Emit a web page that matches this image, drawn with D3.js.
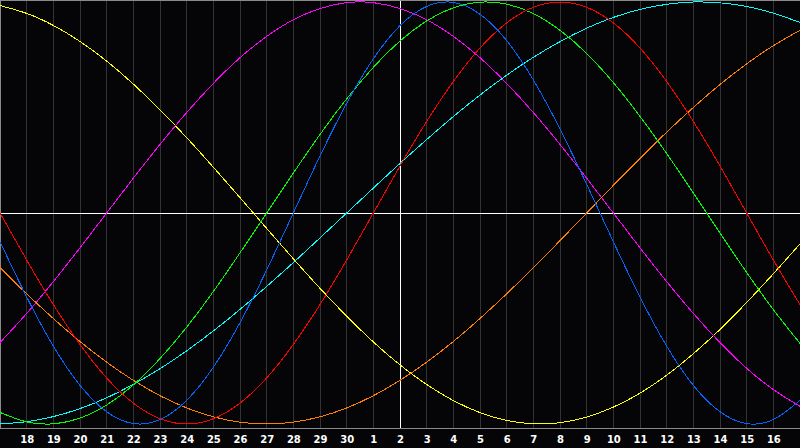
<!DOCTYPE html>
<html><head><meta charset="utf-8">
<script src="https://cdn.jsdelivr.net/npm/d3@7"></script>
<style>body{margin:0;background:#050508}svg{display:block}</style>
</head><body>
<svg id="c" width="800" height="448"></svg>
<script>
// Day labels (window of 31 days, center = day 2)
const days = ["17","18","19","20","21","22","23","24","25","26","27","28","29","30",
  "1","2","3","4","5","6","7","8","9","10","11","12","13","14","15","16","17"];
const centerDay = "2";

// Cycle values (-100..100) for each day of the window
const physical = [-13.6,-39.8,-63.1,-81.7,-94.2,-99.8,-97.9,-88.8,-73.1,-52.0,-27.0,
  0.0,27.0,52.0,73.1,88.8,97.9,99.8,94.2,81.7,63.1,
  39.8,13.6,-13.6,-39.8,-63.1,-81.7,-94.2,-99.8,-97.9,-88.8];
const emotional = [0.0,-22.3,-43.4,-62.3,-78.2,-90.1,-97.5,-100.0,-97.5,-90.1,-78.2,
  -62.3,-43.4,-22.3,0.0,22.3,43.4,62.3,78.2,90.1,97.5,
  100.0,97.5,90.1,78.2,62.3,43.4,22.3,0.0,-22.3,-43.4];
const intellectual = [-94.5,-99.0,-99.9,-97.2,-91.0,-81.5,-69.0,-54.1,-37.2,-18.9,0.0,
  18.9,37.2,54.1,69.0,81.5,91.0,97.2,99.9,99.0,94.5,
  86.6,75.6,61.8,45.8,28.2,9.5,-9.5,-28.2,-45.8,-61.8];
const intuitive = [-61.4,-47.6,-32.5,-16.5,0.0,16.5,32.5,47.6,61.4,73.6,83.7,
  91.6,96.9,99.7,99.7,96.9,91.6,83.7,73.6,61.4,47.6,
  32.5,16.5,0.0,-16.5,-32.5,-47.6,-61.4,-73.6,-83.7,-91.6];
const aesthetic = [98.3,94.6,88.9,81.3,72.0,61.1,48.9,35.7,21.7,7.3,-7.3,
  -21.7,-35.7,-48.9,-61.1,-72.0,-81.3,-88.9,-94.6,-98.3,-99.9,
  -99.4,-96.7,-92.0,-85.4,-76.9,-66.7,-55.2,-42.4,-28.8,-14.6];
const spiritual = [-25.9,-38.3,-50.0,-60.9,-70.7,-79.3,-86.6,-92.4,-96.6,-99.1,-100.0,
  -99.1,-96.6,-92.4,-86.6,-79.3,-70.7,-60.9,-50.0,-38.3,-25.9,
  -13.1,0.0,13.1,25.9,38.3,50.0,60.9,70.7,79.3,86.6];
const awareness = [-100.0,-98.9,-96.5,-92.7,-87.6,-81.2,-73.8,-65.3,-55.9,-45.7,-34.8,
  -23.5,-11.8,0.0,11.8,23.5,34.8,45.7,55.9,65.3,73.8,
  81.2,87.6,92.7,96.5,98.9,100.0,99.6,97.9,94.7,90.3];

const seriesNames = ["aesthetic","intuitive","spiritual","awareness","intellectual","emotional","physical"];
const seriesValues = [aesthetic, intuitive, spiritual, awareness, intellectual, emotional, physical];
const seriesColors = ["#ffff00","#ff00ff","#ff8000","#00ffff","#00ff00","#ff0000","#0066ff"];

const W = 800, H = 448, plotBottom = 428;
const svg = d3.select("#c");
svg.append("rect").attr("width", W).attr("height", H).attr("fill", "#050508");

const x = d3.scalePoint().domain(d3.range(days.length)).range([0, W]);
const y = d3.scaleLinear().domain([-100, 100]).range([424, 2]);

// vertical day grid
svg.append("g").selectAll("line").data(d3.range(1, days.length - 1)).join("line")
  .attr("x1", i => Math.floor(x(i)) + 0.5).attr("x2", i => Math.floor(x(i)) + 0.5)
  .attr("y1", 0).attr("y2", plotBottom)
  .attr("stroke", "#333336").attr("stroke-width", 1);

// zero line and today line
svg.append("line").attr("x1", 0).attr("x2", W)
  .attr("y1", Math.round(y(0)) + 0.5).attr("y2", Math.round(y(0)) + 0.5)
  .attr("stroke", "#ffffff").attr("stroke-width", 1);
const ci = days.indexOf(centerDay);
svg.append("line").attr("x1", Math.floor(x(ci)) + 0.5).attr("x2", Math.floor(x(ci)) + 0.5)
  .attr("y1", 0).attr("y2", plotBottom).attr("stroke", "#ffffff").attr("stroke-width", 1);

// frame
svg.append("line").attr("x1", 0.5).attr("x2", 0.5).attr("y1", 0).attr("y2", plotBottom).attr("stroke", "#8a8a8a");
svg.append("line").attr("x1", 0).attr("x2", W).attr("y1", 0.5).attr("y2", 0.5).attr("stroke", "#8a8a8a");

// curves
const line = d3.line().x((v, i) => x(i)).y(v => y(v)).curve(d3.curveNatural);
svg.append("g").selectAll("path").data(seriesValues).join("path")
  .attr("d", line).attr("fill", "none")
  .attr("stroke", (d, i) => seriesColors[i]).attr("stroke-width", 1)
  .attr("shape-rendering", "crispEdges");

// axis
const axis = d3.axisBottom(x)
  .tickValues(d3.range(1, days.length - 1))
  .tickFormat(i => days[i]).tickSize(0).tickPadding(8);
const ax = svg.append("g").attr("transform", `translate(0,${plotBottom})`).call(axis);
ax.select(".domain").attr("stroke", "#8a8a8a").attr("d", `M0,0.5H${W}`);
ax.selectAll("text").attr("fill", "#ffffff").attr("font-family", "DejaVu Sans")
  .attr("font-weight", "bold").attr("font-size", 10).attr("dy", "0.71em");
</script>
</body></html>
